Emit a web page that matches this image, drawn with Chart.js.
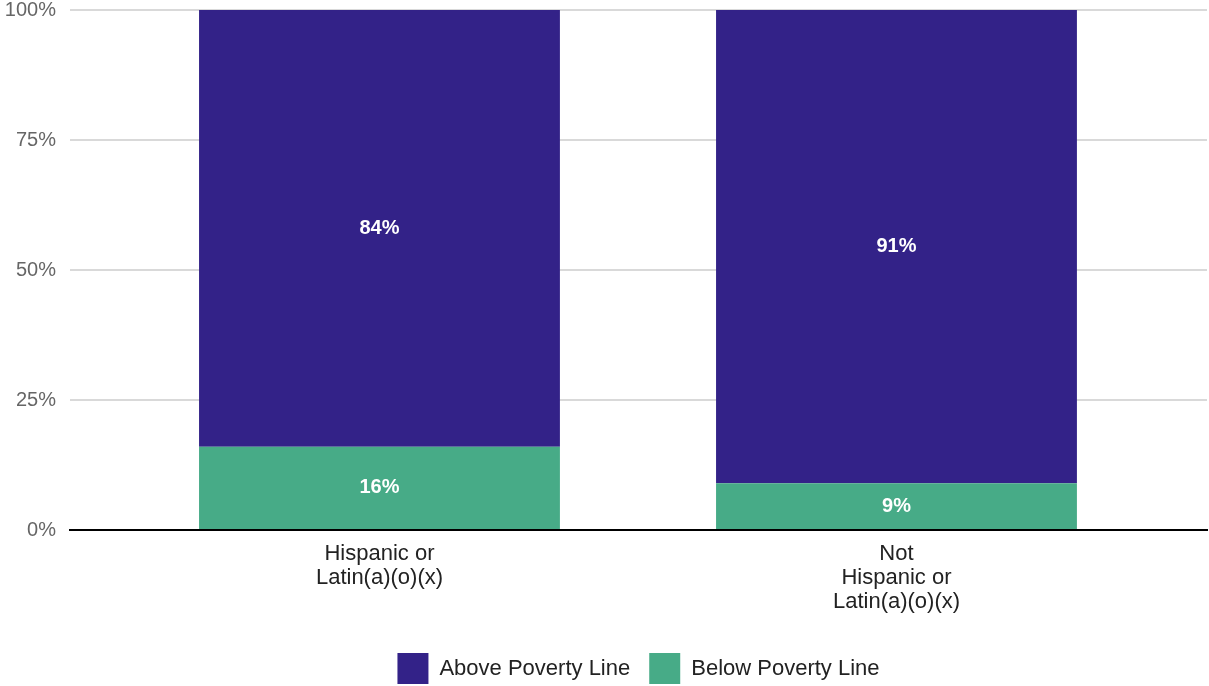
<!DOCTYPE html>
<html>
<head>
<meta charset="utf-8">
<script src="https://cdn.jsdelivr.net/npm/chart.js@4/dist/chart.umd.min.js"></script>
<style>
  html, body { margin: 0; padding: 0; background: #ffffff; }
  #wrap { width: 1209px; height: 686px; position: relative; }
</style>
</head>
<body>
<div id="wrap"><canvas id="c"></canvas></div>
<script>
const categories = [["Hispanic or", "Latin(a)(o)(x)"], ["Not", "Hispanic or", "Latin(a)(o)(x)"]];
const seriesNames = ["Above Poverty Line", "Below Poverty Line"];
const abovePoverty = [84, 91];
const belowPoverty = [16, 9];
const yTickValues = [0, 25, 50, 75, 100];

const FONT = "'Liberation Sans', Arial, Helvetica, sans-serif";

const valueLabels = {
  id: 'valueLabels',
  afterDatasetsDraw(chart) {
    const ctx = chart.ctx;
    ctx.save();
    ctx.font = 'bold 20px ' + FONT;
    ctx.fillStyle = '#ffffff';
    ctx.textAlign = 'center';
    ctx.textBaseline = 'middle';
    chart.data.datasets.forEach((ds, di) => {
      const meta = chart.getDatasetMeta(di);
      if (meta.hidden) return;
      meta.data.forEach((el, i) => {
        const v = ds.data[i].y;
        ctx.fillText(v + '%', el.x, (el.y + el.base) / 2);
      });
    });
    ctx.restore();
  }
};

new Chart(document.getElementById('c'), {
  type: 'bar',
  data: {
    datasets: [
      {
        label: seriesNames[1],
        data: belowPoverty.map((v, i) => ({ x: i, y: v })),
        backgroundColor: '#47ab87',
        borderWidth: 0,
        barPercentage: 0.698,
        categoryPercentage: 1
      },
      {
        label: seriesNames[0],
        data: abovePoverty.map((v, i) => ({ x: i, y: v })),
        backgroundColor: '#332288',
        borderWidth: 0,
        barPercentage: 0.698,
        categoryPercentage: 1
      }
    ]
  },
  options: {
    responsive: true,
    maintainAspectRatio: false,
    animation: false,
    layout: { padding: { left: 4, right: 2, top: 10, bottom: -8 } },
    plugins: {
      legend: {
        position: 'bottom',
        reverse: true,
        fullSize: false,
        labels: {
          boxWidth: 31,
          boxHeight: 31,
          padding: 19,
          color: '#222222',
          font: { family: FONT, size: 22 }
        }
      },
      tooltip: { enabled: false }
    },
    scales: {
      x: {
        type: 'linear',
        stacked: true,
        offset: false,
        min: -0.5986,
        max: 1.6006,
        grid: { display: false },
        border: { display: true, color: '#000000', width: 2 },
        afterBuildTicks: (scale) => { scale.ticks = categories.map((c, i) => ({ value: i })); },
        afterFit: (scale) => { scale.height += 16; },
        ticks: {
          autoSkip: false,
          maxRotation: 0,
          padding: 4,
          color: '#222222',
          font: { family: FONT, size: 22, lineHeight: '24px' },
          callback: (v) => categories[v]
        }
      },
      y: {
        stacked: true,
        min: 0,
        max: 100,
        afterBuildTicks: (scale) => { scale.ticks = yTickValues.map(v => ({ value: v })); },
        afterFit: (scale) => { scale.width = 66; scale.paddingTop = 0; },
        grid: { color: '#d9d9d9', lineWidth: 2, drawTicks: false },
        border: { display: false },
        ticks: {
          padding: 14,
          color: '#666666',
          font: { family: FONT, size: 20 },
          callback: (v) => v + '%'
        }
      }
    }
  },
  plugins: [valueLabels]
});
</script>
</body>
</html>
